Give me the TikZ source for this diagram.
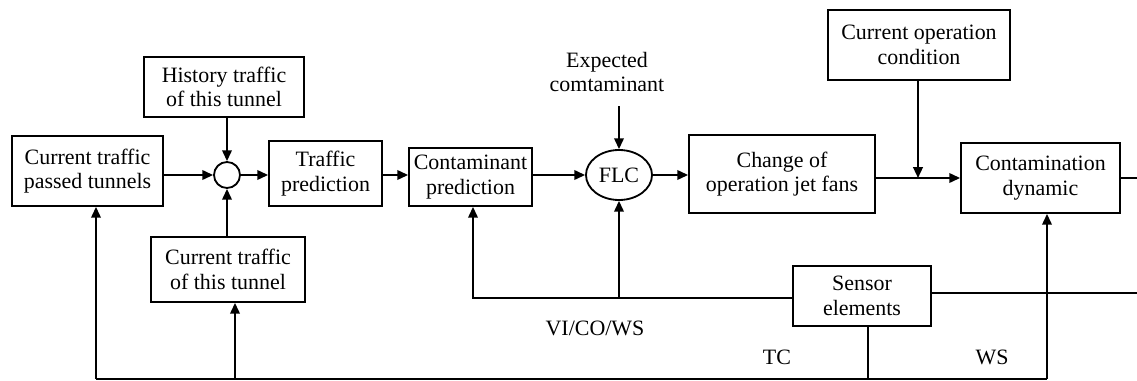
\documentclass[tikz,border=0pt]{standalone}
\usepackage{fontspec}
\setmainfont{Liberation Serif}
\usetikzlibrary{arrows.meta, shapes.geometric}

\begin{document}
\begin{tikzpicture}[x=0.025cm, y=-0.025cm,
  font=\fontsize{15.6}{17.4}\selectfont, line width=1.3pt,
  blk/.style 2 args={rectangle, draw, align=center, inner sep=0pt,
                     minimum width=#1, minimum height=#2},
  arr/.style={-{Triangle[length=2.7mm, width=2.4mm]}},
  lbl/.style={align=center, inner sep=0pt}]
  \useasboundingbox (0,0) rectangle (1137,381);
  % blocks
  \node[blk={3.775cm}{1.75cm}] (passed) at (87.5,171) {Current traffic\\passed tunnels};
  \node[blk={4cm}{1.5cm}] (hist) at (224,87) {History traffic\\of this tunnel};
  \node[blk={3.85cm}{1.625cm}] (cur) at (228,269.5) {Current traffic\\of this tunnel};
  \node[circle, draw, minimum size=0.65cm, inner sep=0pt] (sum) at (227,175) {};
  \node[blk={2.825cm}{1.625cm}] (traf) at (325.5,173.5) {Traffic\\prediction};
  \node[blk={3.075cm}{1.45cm}] (cont) at (470.5,177) {Contaminant\\prediction};
  \node[ellipse, draw, minimum width=1.65cm, minimum height=1.25cm, inner sep=0pt] (flc) at (619,175) {FLC};
  \node[blk={4.65cm}{1.95cm}] (chg) at (782,174) {Change of\\operation jet fans};
  \node[blk={4.55cm}{1.75cm}] (cond) at (919,45) {Current operation\\condition};
  \node[blk={3.975cm}{1.75cm}] (dyn) at (1040.5,178) {Contamination\\dynamic};
  \node[blk={3.45cm}{1.5cm}] (sens) at (862,296) {Sensor\\elements};
  % labels
  \node[lbl] (expc) at (607,72) {Expected\\comtaminant};
  \node[lbl] (vco) at (595,328) {VI/CO/WS};
  \node[lbl] (tc) at (777,357) {TC};
  \node[lbl] (ws) at (992,357) {WS};
  % helper points
  \coordinate (ein) at (619,106);
  \coordinate (jn) at (918,178);
  \coordinate (outr) at (1137,178);
  \coordinate (sr) at (1137,293);
  \coordinate (fbc) at (473,298);
  \coordinate (fbf) at (619,298);
  \coordinate (bl) at (96,379);
  \coordinate (bc) at (235,379);
  \coordinate (bt) at (868,379);
  \coordinate (br) at (1047,379);
  % forward path
  \draw[arr] (passed.east |- sum) -- (sum.west);
  \draw[arr] (hist.south -| sum) -- (sum.north);
  \draw[arr] (cur.north -| sum) -- (sum.south);
  \draw[arr] (sum.east) -- (traf.west |- sum);
  \draw[arr] (traf.east |- sum) -- (cont.west |- sum);
  \draw[arr] (cont.east |- flc) -- (flc.west);
  \draw[arr] (ein) -- (flc.north);
  \draw[arr] (flc.east) -- (chg.west |- flc);
  \draw[arr] (chg.east |- jn) -- (dyn.west |- jn);
  \draw[arr] (cond.south -| jn) -- (jn);
  \draw (dyn.east |- outr) -- (outr);
  % feedback
  \draw (sens.east |- sr) -- (sr);
  \draw[arr] (sens.west |- fbc) -- (fbc) -- (fbc |- cont.south);
  \draw[arr] (fbf) -- (flc.south);
  \draw (sens.south -| bt) -- (bt);
  \draw (bl) -- (br);
  \draw[arr] (bl) -- (bl |- passed.south);
  \draw[arr] (bc) -- (bc |- cur.south);
  \draw[arr] (br) -- (br |- dyn.south);
\end{tikzpicture}
\end{document}
